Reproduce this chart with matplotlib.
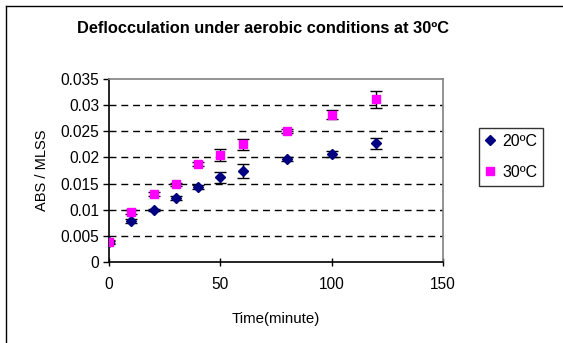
import numpy as np
import matplotlib.pyplot as plt
from matplotlib.lines import Line2D

plt.rcParams['font.family'] = ['Liberation Sans', 'DejaVu Sans']

# sampling times (minutes)
time_min = [0, 10, 20, 30, 40, 50, 60, 80, 100, 120]

# ABS / MLSS at 20ºC and 30ºC with standard deviations
abs_20 = [0.0038, 0.0079, 0.00995, 0.0122, 0.0143, 0.0162, 0.0174, 0.0197, 0.0206, 0.0227]
err_20 = [0.0002, 0.0004, 0.0002, 0.0004, 0.0004, 0.0010, 0.0014, 0.0003, 0.0006, 0.0011]
abs_30 = [0.0038, 0.0095, 0.0130, 0.0149, 0.0187, 0.0205, 0.0225, 0.0250, 0.0282, 0.0311]
err_30 = [0.0004, 0.0004, 0.0004, 0.0003, 0.0004, 0.0012, 0.0010, 0.0004, 0.0008, 0.0016]

y_ticks = [0, 0.005, 0.01, 0.015, 0.02, 0.025, 0.03, 0.035]
y_tick_labels = ['0', '0.005', '0.01', '0.015', '0.02', '0.025', '0.03', '0.035']
x_ticks = [0, 50, 100, 150]

fig = plt.figure(figsize=(5.63, 3.43), dpi=100)
ax = fig.add_axes([0.1936, 0.2362, 0.5933, 0.5335])

# error bars first, markers on top
ax.errorbar(time_min, abs_20, yerr=err_20, fmt='none', ecolor='black',
            elinewidth=1, capsize=4, capthick=1, zorder=3)
ax.errorbar(time_min, abs_30, yerr=err_30, fmt='none', ecolor='black',
            elinewidth=1, capsize=4, capthick=1, zorder=3)
ax.plot(time_min, abs_20, linestyle='none', marker='D', markersize=5,
        color='#000080', label='20ºC', zorder=4)
ax.plot(time_min, abs_30, linestyle='none', marker='s', markersize=6.3,
        color='#FF00FF', label='30ºC', zorder=5)

ax.set_xlim(0, 150)
ax.set_ylim(0, 0.035)
ax.set_xticks(x_ticks)
ax.set_yticks(y_ticks)
ax.set_yticklabels(y_tick_labels)
ax.tick_params(axis='both', labelsize=11.2, colors='black', width=1)
ax.tick_params(axis='y', direction='out', length=4, pad=3)
ax.tick_params(axis='x', direction='inout', length=6, pad=8)

for y in y_ticks[1:-1]:
    ax.axhline(y, color='black', linewidth=1, dashes=(5, 3.5), zorder=1)

ax.spines['left'].set_color('black')
ax.spines['bottom'].set_color('black')
ax.spines['top'].set_color('#808080')
ax.spines['right'].set_color('#808080')
for s in ax.spines.values():
    s.set_linewidth(1.2)

ax.set_xlabel('Time(minute)', fontsize=10.8, labelpad=14)
ax.set_ylabel('ABS / MLSS', fontsize=10.5, labelpad=8)
fig.text(0.468, 0.918, 'Deflocculation under aerobic conditions at 30ºC',
         ha='center', va='center', fontsize=11.8, fontweight='bold')

leg = ax.legend(loc='upper left', bbox_to_anchor=(1.108, 0.73), frameon=True,
                fancybox=False, edgecolor='black', fontsize=11.5,
                handlelength=0.7, handletextpad=0.4, borderpad=0.35,
                labelspacing=1.0, borderaxespad=0)
leg.get_frame().set_linewidth(1)

# outer chart frame
fig.add_artist(Line2D([5.5 / 563, 5.5 / 563], [0, 1 - 5.5 / 343],
                      transform=fig.transFigure, color='black', linewidth=1))
fig.add_artist(Line2D([5.5 / 563, 1], [1 - 5.5 / 343, 1 - 5.5 / 343],
                      transform=fig.transFigure, color='black', linewidth=1))

fig.savefig('out.png', dpi=100)
